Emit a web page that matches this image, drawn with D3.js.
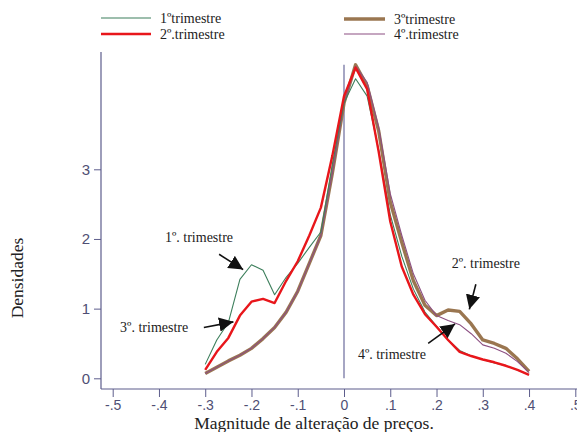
<!DOCTYPE html>
<html>
<head>
<meta charset="utf-8">
<script src="https://cdn.jsdelivr.net/npm/d3@7"></script>
<style>
  html, body { margin: 0; padding: 0; background: #fff; }
  svg { display: block; }
</style>
</head>
<body>
<svg id="chart" width="577" height="432"></svg>
<script>
// ---------- data ----------
const xGrid = [-0.3, -0.275, -0.25, -0.225, -0.2, -0.175, -0.15, -0.125, -0.1, -0.075, -0.05, -0.025,
  0, 0.025, 0.05, 0.075, 0.1, 0.125, 0.15, 0.175, 0.2, 0.225, 0.25, 0.275, 0.3, 0.325, 0.35, 0.375, 0.4];

const tri1 = [0.20, 0.55, 0.80, 1.42, 1.63, 1.55, 1.20, 1.45, 1.65, 1.88, 2.10, 3.08,
  3.95, 4.30, 4.05, 3.28, 2.35, 1.75, 1.28, 0.95, 0.75, 0.55, 0.40, 0.32, 0.27, 0.22, 0.18, 0.12, 0.05];
const tri2 = [0.12, 0.38, 0.58, 0.90, 1.10, 1.14, 1.08, 1.40, 1.68, 2.05, 2.45, 3.20,
  4.05, 4.46, 4.15, 3.25, 2.25, 1.60, 1.20, 0.92, 0.74, 0.55, 0.38, 0.32, 0.27, 0.23, 0.18, 0.12, 0.05];
const tri3 = [0.07, 0.16, 0.25, 0.33, 0.43, 0.57, 0.73, 0.95, 1.25, 1.65, 2.05, 2.95,
  3.95, 4.50, 4.20, 3.55, 2.53, 1.95, 1.40, 1.05, 0.90, 0.98, 0.96, 0.78, 0.55, 0.50, 0.43, 0.28, 0.10];
const tri4 = [0.07, 0.16, 0.25, 0.33, 0.43, 0.57, 0.73, 0.95, 1.25, 1.65, 2.05, 2.95,
  3.95, 4.48, 4.25, 3.60, 2.65, 2.05, 1.50, 1.12, 0.90, 0.83, 0.77, 0.64, 0.48, 0.43, 0.36, 0.24, 0.08];

const seriesNames = ["1ºtrimestre", "2º.trimestre", "3ºtrimestre", "4º.trimestre"];
const xTicks = [-0.5, -0.4, -0.3, -0.2, -0.1, 0, 0.1, 0.2, 0.3, 0.4, 0.5];
const xTickLabels = ["-.5", "-.4", "-.3", "-.2", "-.1", "0", ".1", ".2", ".3", ".4", ".5"];
const yTicks = [0, 1, 2, 3];
const xTitle = "Magnitude de alteração de preços.";
const yTitle = "Densidades";
const refLineX = 0;
const refLineTop = 4.5;

// annotations: label, text anchor point, arrow start, arrow tip (data units)
const annLabels = ["1º. trimestre", "3º. trimestre", "2º. trimestre", "4º. trimestre"];
const annText = [[-0.387, 1.96], [-0.484, 0.67], [0.233, 1.59], [0.030, 0.27]];
const annFrom = [[-0.270, 1.78], [-0.303, 0.73], [0.285, 1.35], [0.182, 0.50]];
const annTo   = [[-0.218, 1.56], [-0.239, 0.81], [0.271, 0.99], [0.240, 0.78]];

// ---------- styles ----------
const styles = [
  { color: "#3d7f5c", width: 1.1 },
  { color: "#e8161b", width: 2.4 },
  { color: "#9a7650", width: 3.4 },
  { color: "#8c4f82", width: 1.1 }
];
const axisColor = "#5d5d8c";
const labelColor = "#4f4f74";
const serif = "'Liberation Serif', 'DejaVu Serif', serif";
const sans = "'Liberation Sans', Arial, sans-serif";

// ---------- chart ----------
const svg = d3.select("#chart");
const x = d3.scaleLinear().domain([-0.5, 0.5]).range([112.7, 575.3]);
const y = d3.scaleLinear().domain([0, 3]).range([378.3, 169.3]);

const axisX0 = 101, axisY0 = 389, axisTop = 52;

// defs: arrowhead
svg.append("defs").append("marker")
  .attr("id", "arrow")
  .attr("viewBox", "0 0 10 10")
  .attr("refX", 10).attr("refY", 5)
  .attr("markerWidth", 9).attr("markerHeight", 9)
  .attr("markerUnits", "strokeWidth")
  .attr("orient", "auto")
  .append("path").attr("d", "M0,0 L10,5 L0,10 Z").attr("fill", "#111");

// reference line at x = 0
svg.append("line")
  .attr("x1", x(refLineX)).attr("x2", x(refLineX))
  .attr("y1", y(refLineTop)).attr("y2", y(0))
  .attr("stroke", "#6b6b9c").attr("stroke-width", 1.2);

// density curves
const allSeries = [tri1, tri2, tri3, tri4];
const line = d3.line().x((d, i) => x(xGrid[i])).y(d => y(d));
const drawOrder = [2, 3, 0, 1];
drawOrder.forEach(k => {
  svg.append("path")
    .datum(allSeries[k])
    .attr("d", line)
    .attr("fill", "none")
    .attr("stroke", styles[k].color)
    .attr("stroke-width", styles[k].width)
    .attr("stroke-linejoin", "round");
});

// axes
const yAxis = d3.axisLeft(y).tickValues(yTicks).tickSize(7).tickPadding(4).tickFormat(d3.format("d"));
const gy = svg.append("g").attr("transform", `translate(${axisX0},0)`).call(yAxis);
gy.select(".domain").remove();
gy.selectAll(".tick line").attr("stroke", axisColor);
gy.selectAll(".tick text").attr("fill", labelColor).style("font", `15px ${sans}`);

const xAxis = d3.axisBottom(x).tickValues(xTicks).tickSize(8).tickPadding(3)
  .tickFormat((d, i) => xTickLabels[i]);
const gx = svg.append("g").attr("transform", `translate(0,${axisY0})`).call(xAxis);
gx.select(".domain").remove();
gx.selectAll(".tick line").attr("stroke", axisColor);
gx.selectAll(".tick text").attr("fill", labelColor).style("font", `14px ${sans}`);

svg.append("line").attr("x1", axisX0).attr("x2", axisX0).attr("y1", axisTop).attr("y2", axisY0)
  .attr("stroke", axisColor).attr("stroke-width", 1.2);
svg.append("line").attr("x1", axisX0).attr("x2", 577).attr("y1", axisY0).attr("y2", axisY0)
  .attr("stroke", axisColor).attr("stroke-width", 1.2);

// axis titles
svg.append("text").attr("x", 314).attr("y", 429).attr("text-anchor", "middle")
  .style("font", `17.5px ${serif}`).attr("fill", "#222").text(xTitle);
svg.append("text").attr("transform", "translate(23,278) rotate(-90)").attr("text-anchor", "middle")
  .style("font", `17.5px ${serif}`).attr("fill", "#222").text(yTitle);

// legend
const legendPos = [[101, 18], [101, 34], [344, 19], [344, 34]];
seriesNames.forEach((name, k) => {
  const [lx, ly] = legendPos[k];
  const len = k < 2 ? 50 : 41;
  svg.append("line").attr("x1", lx).attr("x2", lx + len).attr("y1", ly).attr("y2", ly)
    .attr("stroke", styles[k].color).attr("stroke-width", styles[k].width);
  svg.append("text").attr("x", lx + len + 9).attr("y", ly + 4.5)
    .style("font", `14px ${serif}`).attr("fill", "#222").text(name);
});

// annotations
annLabels.forEach((lab, i) => {
  svg.append("text").attr("x", x(annText[i][0])).attr("y", y(annText[i][1]))
    .style("font", `14px ${serif}`).attr("fill", "#222").text(lab);
  svg.append("line")
    .attr("x1", x(annFrom[i][0])).attr("y1", y(annFrom[i][1]))
    .attr("x2", x(annTo[i][0])).attr("y2", y(annTo[i][1]))
    .attr("stroke", "#111").attr("stroke-width", 1.6)
    .attr("marker-end", "url(#arrow)");
});
</script>
</body>
</html>
